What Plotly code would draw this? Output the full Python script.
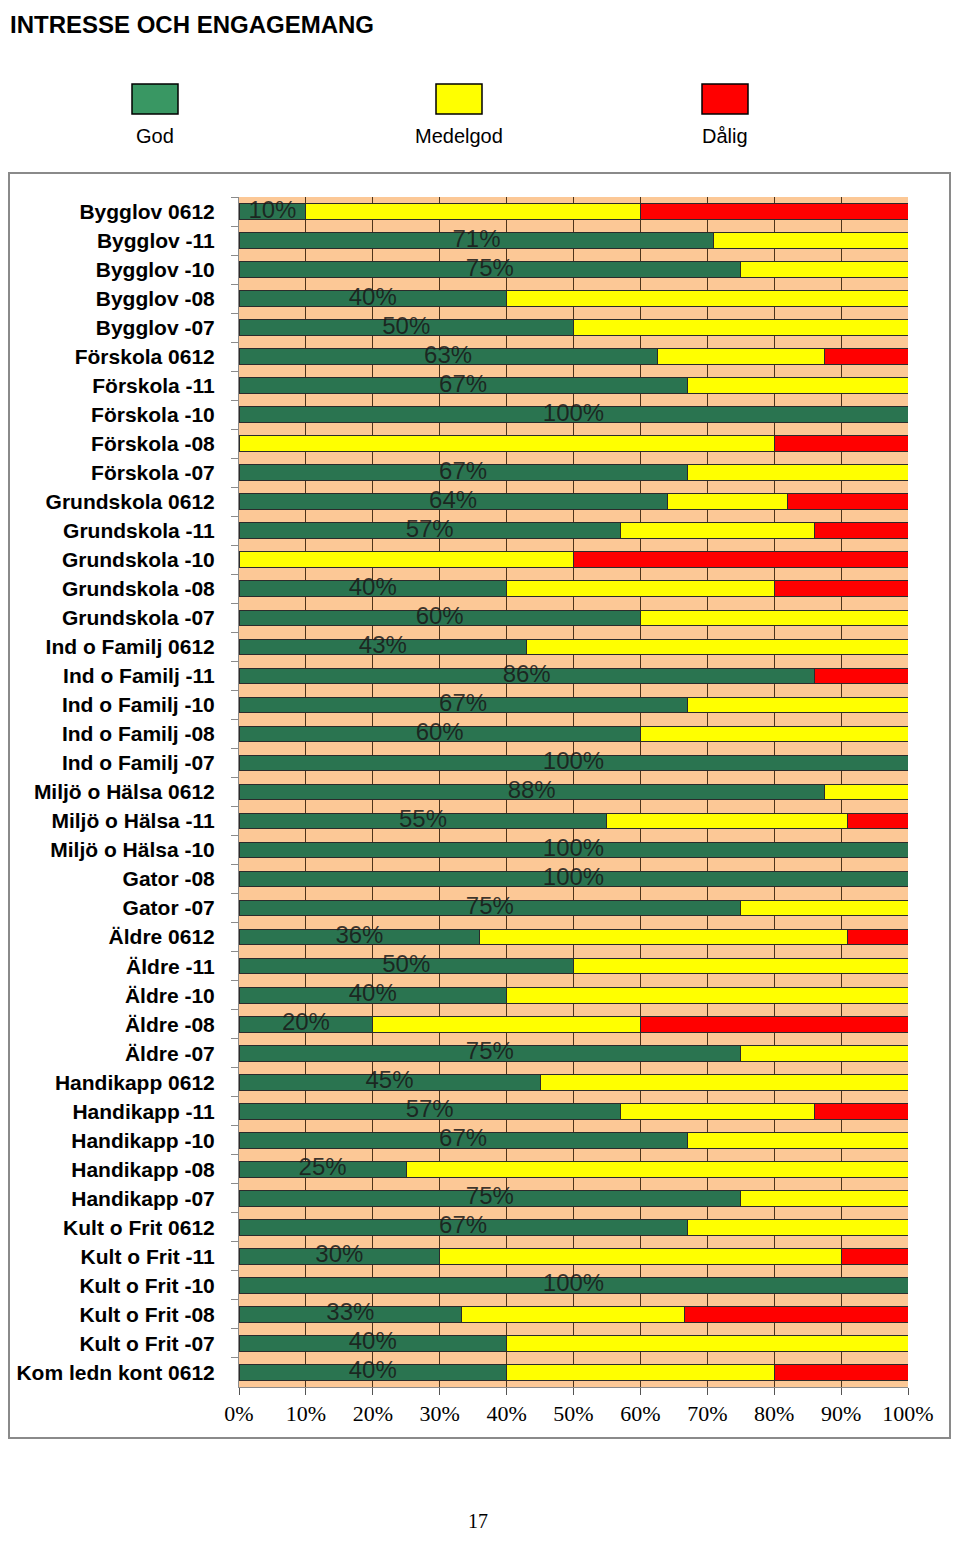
import plotly.graph_objects as go

categories = ["Bygglov 0612", "Bygglov -11", "Bygglov -10", "Bygglov -08", "Bygglov -07",
              "Förskola 0612", "Förskola -11", "Förskola -10", "Förskola -08", "Förskola -07",
              "Grundskola 0612", "Grundskola -11", "Grundskola -10", "Grundskola -08", "Grundskola -07",
              "Ind o Familj 0612", "Ind o Familj -11", "Ind o Familj -10", "Ind o Familj -08", "Ind o Familj -07",
              "Miljö o Hälsa 0612", "Miljö o Hälsa -11", "Miljö o Hälsa -10",
              "Gator -08", "Gator -07",
              "Äldre 0612", "Äldre -11", "Äldre -10", "Äldre -08", "Äldre -07",
              "Handikapp 0612", "Handikapp -11", "Handikapp -10", "Handikapp -08", "Handikapp -07",
              "Kult o Frit 0612", "Kult o Frit -11", "Kult o Frit -10", "Kult o Frit -08", "Kult o Frit -07",
              "Kom ledn kont 0612"]

god = [10, 71, 75, 40, 50,
       62.5, 67, 100, 0, 67,
       64, 57, 0, 40, 60,
       43, 86, 67, 60, 100,
       87.5, 55, 100,
       100, 75,
       36, 50, 40, 20, 75,
       45, 57, 67, 25, 75,
       67, 30, 100, 33.3, 40,
       40]
medelgod = [50, 29, 25, 60, 50,
            25, 33, 0, 80, 33,
            18, 29, 50, 40, 40,
            57, 0, 33, 40, 0,
            12.5, 36, 0,
            0, 25,
            55, 50, 60, 40, 25,
            55, 29, 33, 75, 25,
            33, 60, 0, 33.3, 60,
            40]
dalig = [40, 0, 0, 0, 0,
         12.5, 0, 0, 20, 0,
         18, 14, 50, 20, 0,
         0, 14, 0, 0, 0,
         0, 9, 0,
         0, 0,
         9, 0, 0, 40, 0,
         0, 14, 0, 0, 0,
         0, 10, 0, 33.4, 0,
         20]

series_names = ["God", "Medelgod", "Dålig"]
bar_colors = ["#2a7450", "#ffff00", "#ff0000"]
legend_colors = ["#399763", "#ffff00", "#ff0000"]
x_ticks = [0, 10, 20, 30, 40, 50, 60, 70, 80, 90, 100]
x_tick_text = [f"{t}%" for t in x_ticks]

# page is rendered with an 8px body margin; compensate so nothing overflows
OFF = 8
W, H = 960 - OFF, 1543 - 2 * OFF
L, R, T, B = 239, 908, 197, 1387   # target page pixels


def px(x):
    return (x - L) / (R - L)


def py(y):
    return (B - y) / (B - T)


fig = go.Figure()
for name, vals, col in zip(series_names, [god, medelgod, dalig], bar_colors):
    fig.add_trace(go.Bar(
        y=categories, x=vals, name=name, orientation="h",
        marker=dict(color=col, line=dict(color="#2b2b2b", width=1)),
        showlegend=False, hoverinfo="skip"))

lab_y = [c for c, g in zip(categories, god) if g > 0]
lab_x = [g / 2 for g in god if g > 0]
lab_t = [f"{int(g + 0.5)}%" for g in god if g > 0]
fig.add_trace(go.Scatter(
    x=lab_x, y=lab_y, text=lab_t, mode="text",
    textfont=dict(family="Liberation Sans, Arial", size=24, color="rgba(25,25,25,0.85)"),
    textposition="middle center", showlegend=False, hoverinfo="skip"))

shapes = [
    dict(type="rect", xref="paper", yref="paper",
         x0=px(9), x1=px(950), y0=py(1438), y1=py(173),
         line=dict(color="#8a8a8a", width=2), fillcolor="rgba(0,0,0,0)", layer="below"),
]
annotations = [
    dict(text="<b>INTRESSE OCH ENGAGEMANG</b>", xref="paper", yref="paper",
         x=px(OFF), y=py(OFF + 1), xanchor="left", yanchor="top", showarrow=False,
         font=dict(family="Liberation Sans, Arial", size=24, color="black")),
    dict(text="17", xref="paper", yref="paper", x=px(478), y=py(1521),
         xanchor="center", yanchor="middle", showarrow=False,
         font=dict(family="Liberation Serif, Times New Roman", size=20, color="black")),
]
leg_centers = [155, 459, 725]
for name, col, cx in zip(series_names, legend_colors, leg_centers):
    shapes.append(dict(type="rect", xref="paper", yref="paper",
                       x0=px(cx - 23), x1=px(cx + 23), y0=py(114), y1=py(84),
                       fillcolor=col, line=dict(color="black", width=1.5)))
    annotations.append(dict(text=name, xref="paper", yref="paper", x=px(cx), y=py(136),
                            xanchor="center", yanchor="middle", showarrow=False,
                            font=dict(family="Liberation Sans, Arial", size=20, color="black")))

n = len(categories)
fig.update_layout(
    barmode="stack", bargap=0.46,
    width=W, height=H,
    margin=dict(l=L - OFF, r=W - (R - OFF), t=T - OFF, b=H - (B - OFF), pad=0, autoexpand=False),
    paper_bgcolor="white", plot_bgcolor="#fcc896",
    shapes=shapes, annotations=annotations,
    xaxis=dict(range=[0, 100], tickvals=x_ticks, ticktext=x_tick_text,
               automargin=False,
               showgrid=True, gridcolor="#4d3319", gridwidth=1.3,
               ticks="outside", ticklen=7, tickcolor="#555",
               showline=True, linecolor="#8a8a8a", linewidth=1,
               zeroline=False,
               tickfont=dict(family="Liberation Serif, Times New Roman", size=22, color="black")),
    yaxis=dict(range=[n - 0.5, -0.5], type="category", automargin=False,
               tickson="boundaries", ticks="outside", ticklen=7, tickcolor="#8a8a8a",
               showline=True, linecolor="#8a8a8a", linewidth=1,
               showgrid=False, ticklabelstandoff=19,
               tickfont=dict(family="Liberation Sans, Arial", size=21, color="black", weight="bold")),
)

fig.write_html("out.html")
